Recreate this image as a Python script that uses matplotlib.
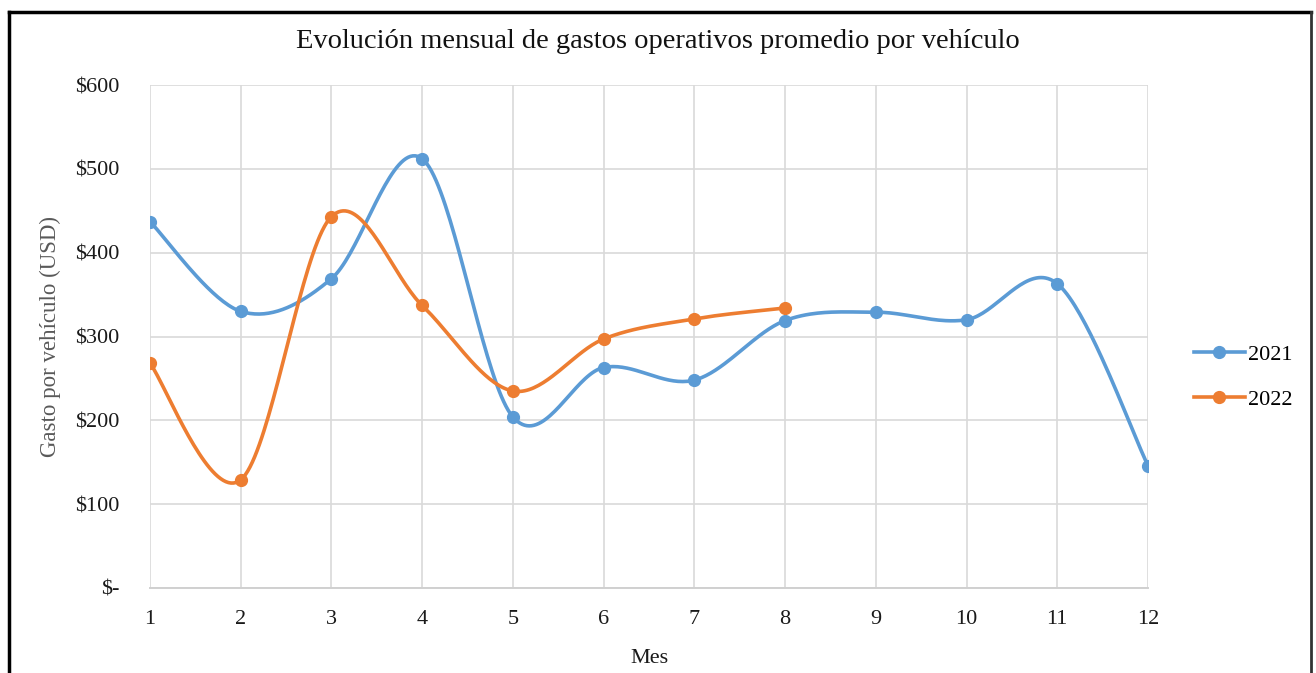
import numpy as np
import matplotlib.pyplot as plt
from matplotlib.lines import Line2D

# data
meses = list(range(1, 13))
gasto_2021 = [437, 330, 369, 512, 204, 263, 248, 319, 329, 320, 363, 146]
meses_2022 = list(range(1, 9))
gasto_2022 = [268, 129, 443, 337, 235, 297, 321, 334]
y_ticks = [0, 100, 200, 300, 400, 500, 600]
y_labels = ['$-', '$100', '$200', '$300', '$400', '$500', '$600']

AZUL = '#5B9BD5'
NARANJA = '#ED7D31'


def suavizar(x, y, n=40):
  # Excel-like smoothed line: cubic bezier with catmull-rom control points
  x = np.asarray(x, float)
  y = np.asarray(y, float)
  px = np.concatenate([[x[0]], x, [x[-1]]])
  py = np.concatenate([[y[0]], y, [y[-1]]])
  xs, ys = [], []
  t = np.linspace(0, 1, n)
  for i in range(len(x) - 1):
    p0 = np.array([px[i + 1], py[i + 1]])
    p3 = np.array([px[i + 2], py[i + 2]])
    c1 = p0 + (p3 - np.array([px[i], py[i]])) / 6
    c2 = p3 - (np.array([px[i + 3], py[i + 3]]) - p0) / 6
    b = ((1 - t) ** 3)[:, None] * p0 + (3 * (1 - t) ** 2 * t)[:, None] * c1 \
        + (3 * (1 - t) * t ** 2)[:, None] * c2 + (t ** 3)[:, None] * p3
    xs.extend(b[:, 0])
    ys.extend(b[:, 1])
  return xs, ys


plt.rcParams['font.family'] = ['Liberation Serif', 'DejaVu Serif']

fig = plt.figure(figsize=(13.16, 6.73), dpi=100)
ax = fig.add_axes([150 / 1316, 1 - 588 / 673, (1148 - 150) / 1316, (588 - 85) / 673])

for xs_, ys_, col in [(meses, gasto_2021, AZUL), (meses_2022, gasto_2022, NARANJA)]:
  sx, sy = suavizar(xs_, ys_)
  ax.plot(sx, sy, color=col, lw=2.6, solid_capstyle='round', zorder=3)
  ax.plot(xs_, ys_, 'o', color=col, ms=8.5, zorder=4)

ax.set_xlim(1, 12)
ax.set_ylim(0, 600)
ax.set_xticks(meses)
ax.set_xticklabels([str(m) for m in meses])
ax.set_yticks(y_ticks)
ax.set_yticklabels(y_labels)
ax.grid(True, color='#d9d9d9', lw=1.2)
ax.set_axisbelow(True)
for s in ['top', 'right', 'left']:
  ax.spines[s].set_visible(False)
ax.spines['bottom'].set_color('#d0d0d0')
ax.spines['bottom'].set_linewidth(1.4)
ax.tick_params(length=0, labelsize=16, colors='#1a1a1a')
ax.tick_params(axis='x', pad=16)
ax.tick_params(axis='y', pad=22)

ax.set_xlabel('Mes', fontsize=16, color='#1a1a1a', labelpad=14)
ax.set_ylabel('Gasto por vehículo (USD)', fontsize=16.5, color='#595959', labelpad=10)

fig.text(0.5, 1 - 42 / 673, 'Evolución mensual de gastos operativos promedio por vehículo',
         ha='center', va='center', fontsize=20.5, color='#111111')

handles = [Line2D([], [], color=AZUL, lw=2.6, marker='o', ms=8.5),
           Line2D([], [], color=NARANJA, lw=2.6, marker='o', ms=8.5)]
fig.legend(handles, ['2021', '2022'], loc='center', bbox_to_anchor=(1243 / 1316, 1 - 377 / 673),
           frameon=False, fontsize=16, handlelength=2.3, handletextpad=0.15, labelspacing=1.1)

# black frame (top, left, right) as in the source image
fig.add_artist(Line2D([9 / 1316, 1311 / 1316], [1 - 12 / 673, 1 - 12 / 673], color='black', lw=2.5,
                      transform=fig.transFigure))
fig.add_artist(Line2D([9 / 1316, 9 / 1316], [0, 1 - 12 / 673], color='black', lw=2.5,
                      transform=fig.transFigure))
fig.add_artist(Line2D([1311 / 1316, 1311 / 1316], [0, 1 - 12 / 673], color='#333333', lw=2,
                      transform=fig.transFigure))

fig.savefig('out.png', dpi=100)
